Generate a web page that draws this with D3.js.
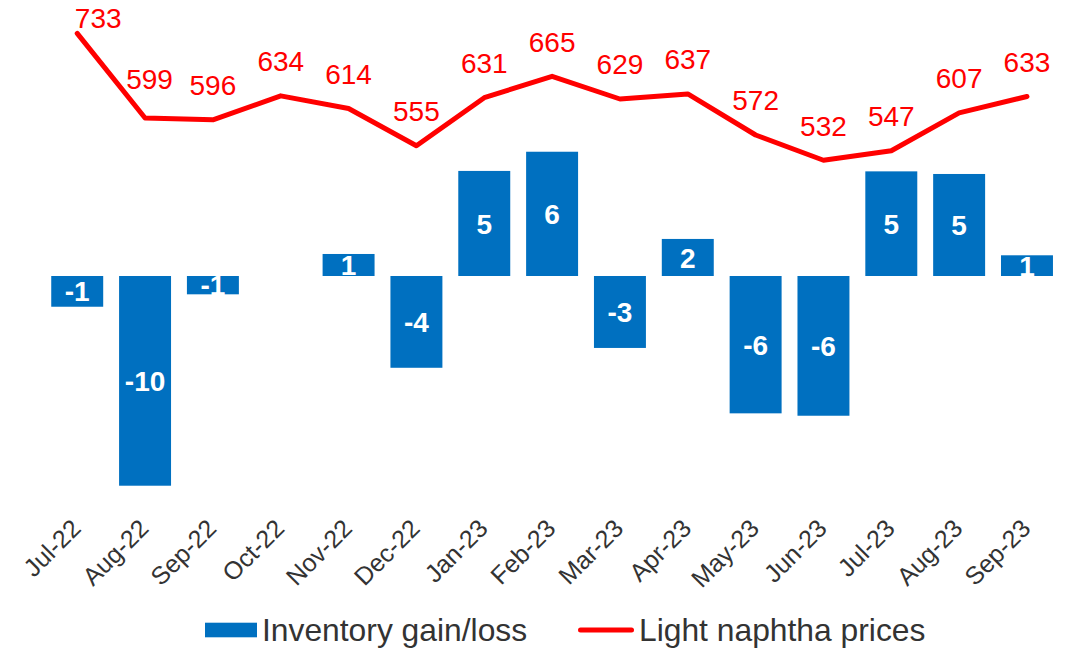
<!DOCTYPE html>
<html>
<head>
<meta charset="utf-8">
<script src="https://cdn.jsdelivr.net/npm/d3@7"></script>
<style>
  html, body { margin: 0; padding: 0; background: #fff; }
  svg { display: block; font-family: "Liberation Sans", Arial, sans-serif; }
</style>
</head>
<body>
<svg id="chart" width="1076" height="650"></svg>
<script>
const months = ["Jul-22","Aug-22","Sep-22","Oct-22","Nov-22","Dec-22","Jan-23","Feb-23","Mar-23","Apr-23","May-23","Jun-23","Jul-23","Aug-23","Sep-23"];
const inventoryGainLoss = [-1.41, -9.62, -0.84, 0, 1.01, -4.21, 4.82, 5.70, -3.30, 1.70, -6.30, -6.41, 4.80, 4.68, 0.95];
const naphthaPrices = [733, 599, 596, 634, 614, 555, 631, 665, 629, 637, 572, 532, 547, 607, 633];
const seriesNames = ["Inventory gain/loss", "Light naphtha prices"];

const svg = d3.select("#chart");
const BLUE = "#0070C0", RED = "#FF0000", TEXT = "#333333";

const x = d3.scaleBand().domain(months).range([43.3, 1060.9]).paddingInner(0.234).paddingOuter(0.117);
const y = d3.scaleLinear().domain([-12, 12]).range([537.6, 14.4]);
const y2 = d3.scaleLinear().domain([500, 750]).range([180.45, 22.6]);

const barData = months.map((m, i) => ({m, v: inventoryGainLoss[i]})).filter(d => d.v !== 0);

// Bars
const bars = svg.append("g");
bars.selectAll("rect").data(barData)
  .join("rect")
  .attr("x", d => x(d.m))
  .attr("width", x.bandwidth())
  .attr("y", d => y(Math.max(0, d.v)))
  .attr("height", d => Math.abs(y(d.v) - y(0)))
  .attr("fill", BLUE);

// Bar labels (white; invisible where they overflow onto the white background)
const fmt = v => String(Math.round(v));
bars.selectAll("text").data(barData)
  .join("text")
  .attr("x", d => x(d.m) + x.bandwidth() / 2)
  .attr("y", d => (y(d.v) + y(0)) / 2)
  .attr("dy", "0.36em")
  .attr("text-anchor", "middle")
  .attr("font-size", 28)
  .attr("font-weight", "bold")
  .attr("fill", "#fff")
  .text(d => fmt(d.v));

// Line
const cx = m => x(m) + x.bandwidth() / 2;
const line = d3.line().x((d, i) => cx(months[i])).y(d => y2(d));
svg.append("path")
  .datum(naphthaPrices)
  .attr("d", line)
  .attr("fill", "none")
  .attr("stroke", RED)
  .attr("stroke-width", 5)
  .attr("stroke-linejoin", "round")
  .attr("stroke-linecap", "round");

// Line labels
const shift = i => i === 0 ? [21, -5] : (i === 1 ? [4.5, -29] : [0, -24.5]);
svg.append("g").selectAll("text").data(naphthaPrices)
  .join("text")
  .attr("x", (d, i) => cx(months[i]) + shift(i)[0])
  .attr("y", (d, i) => y2(d) + shift(i)[1])
  .attr("text-anchor", "middle")
  .attr("font-size", 28)
  .attr("fill", RED)
  .text(d => d);

// X axis labels
const xAxis = d3.axisBottom(x).tickSize(0).tickPadding(0);
const gx = svg.append("g").call(xAxis);
gx.select(".domain").remove();
gx.selectAll(".tick").attr("transform", d => `translate(${cx(d)},0)`);
gx.selectAll(".tick text")
  .attr("x", 0).attr("y", 0).attr("dy", 0)
  .attr("text-anchor", "end")
  .attr("font-size", 25)
  .attr("font-family", "Liberation Sans, Arial, sans-serif")
  .attr("fill", TEXT)
  .attr("transform", "translate(5,530) rotate(-45)");

// Legend
const lg = svg.append("g");
lg.append("rect").attr("x", 205).attr("y", 622.7).attr("width", 52).attr("height", 14.6).attr("fill", BLUE);
lg.append("text").attr("x", 262).attr("y", 641).attr("font-size", 31.8).attr("fill", TEXT).text(seriesNames[0]);
lg.append("line").attr("x1", 580.5).attr("x2", 631.5).attr("y1", 630).attr("y2", 630)
  .attr("stroke", RED).attr("stroke-width", 5).attr("stroke-linecap", "round");
lg.append("text").attr("x", 639).attr("y", 641).attr("font-size", 31.8).attr("fill", TEXT).text(seriesNames[1]);
</script>
</body>
</html>
